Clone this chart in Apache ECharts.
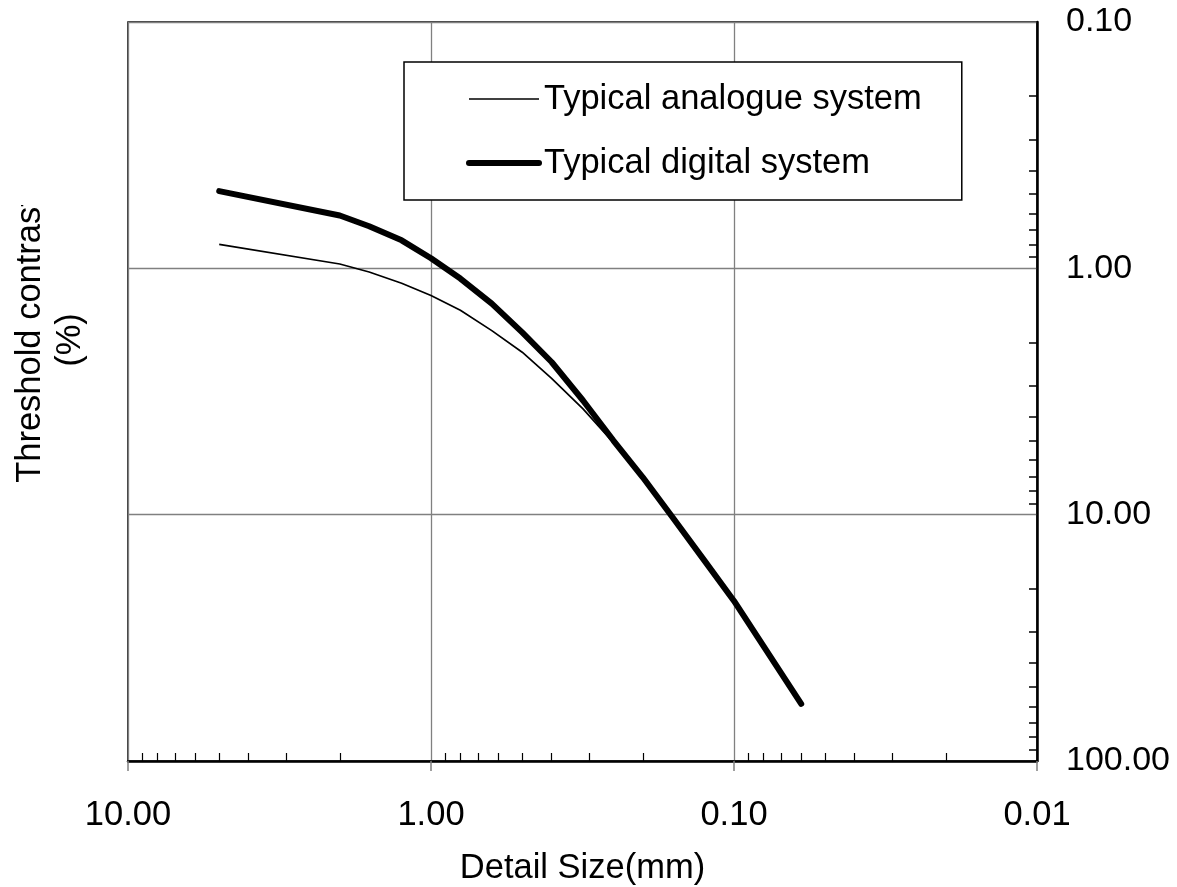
<!DOCTYPE html>
<html><head><meta charset="utf-8">
<script src="https://cdn.jsdelivr.net/npm/echarts@6/dist/echarts.min.js"></script>
<style>html,body{margin:0;padding:0;background:#fff}#c{width:1177px;height:887px}</style>
</head><body><div id="c"></div>
<script>
// Detail size (mm) and threshold contrast (%)
const detailSize = [5, 2, 1.6, 1.25, 1.0, 0.8, 0.63, 0.5, 0.4, 0.315, 0.25, 0.2, 0.16, 0.125, 0.1, 0.08, 0.06];
const analogue   = [0.80, 0.96, 1.035, 1.15, 1.29, 1.48, 1.79, 2.19, 2.8, 3.72, 5.1, 7.05, 10.2, 15.4, 22.4, 34.1, 58.6];
const digital    = [0.486, 0.61, 0.675, 0.77, 0.91, 1.1, 1.39, 1.82, 2.4, 3.44, 5.0, 7.05, 10.2, 15.4, 22.4, 34.1, 58.6];
const seriesNames = ['Typical analogue system', 'Typical digital system'];
const xName = 'Detail Size(mm)';
const yName = 'Threshold contrast\n(%)';
const xRange = [0.01, 10];
const yRange = [0.1, 100];

const FONT = '"Liberation Sans", Arial, Helvetica, sans-serif';
const fmt = v => Number(v).toFixed(2);

const chart = echarts.init(document.getElementById('c'), null, {renderer: 'canvas'});
chart.setOption({
  animation: false,
  backgroundColor: '#fff',
  textStyle: {fontFamily: FONT, color: '#000'},
  grid: {left: 128, right: 140, top: 22, bottom: 126, outerBoundsMode: 'none', containLabel: false,
         show: true, borderColor: '#000', borderWidth: 1.5, backgroundColor: 'transparent'},
  legend: {
    orient: 'vertical', left: 404, top: 62,
    padding: [17, 40, 17, 62], itemGap: 24, itemWidth: 70, itemHeight: 20,
    borderColor: '#000', borderWidth: 1.5, backgroundColor: '#fff',
    textStyle: {fontSize: 34.5, fontFamily: FONT, color: '#000', lineHeight: 40},
    data: [
      {name: seriesNames[0], itemStyle: {color: 'rgba(0,0,0,0)', opacity: 0, borderWidth: 0},
       lineStyle: {color: '#000', width: 1.7}},
      {name: seriesNames[1], itemStyle: {color: 'rgba(0,0,0,0)', opacity: 0, borderWidth: 0},
       lineStyle: {color: '#000', width: 6, cap: 'round'}}
    ]
  },
  xAxis: [{
    type: 'log', logBase: 10, min: xRange[0], max: xRange[1], inverse: true, position: 'bottom',
    name: xName, nameLocation: 'middle', nameGap: 90,
    nameTextStyle: {fontSize: 34.5, fontFamily: FONT, color: '#000'},
    axisLine: {lineStyle: {color: '#000', width: 2.5}},
    axisTick: {show: true, inside: false, length: 10, lineStyle: {color: '#808080', width: 1.5}},
    axisLabel: {fontSize: 34.5, fontFamily: FONT, color: '#000', margin: 37, formatter: fmt},
    splitLine: {show: true, lineStyle: {color: '#808080', width: 1.3}},
    minorTick: {show: false}
  }, {
    type: 'log', logBase: 10, min: xRange[0], max: xRange[1], inverse: true, position: 'bottom',
    axisLine: {show: false},
    axisTick: {show: false, inside: true},
    axisLabel: {show: false},
    splitLine: {show: false},
    minorTick: {show: true, splitNumber: 9, length: 8, lineStyle: {color: '#000', width: 1.2}}
  }],
  yAxis: {
    type: 'log', logBase: 10, min: yRange[0], max: yRange[1], inverse: true, position: 'right',
    axisLine: {show: true, lineStyle: {color: '#000', width: 2.5}},
    axisTick: {show: false, inside: true},
    minorTick: {show: true, splitNumber: 9, length: 8, lineStyle: {color: '#000', width: 1.5}},
    axisLabel: {fontSize: 34, fontFamily: FONT, color: '#000', margin: 29, formatter: fmt, padding: [5, 0, 0, 0]},
    splitLine: {show: true, lineStyle: {color: '#808080', width: 1.3}}
  },
  graphic: [
    {type: 'text', x: 50, y: 340, rotation: Math.PI / 2, z: 10,
     style: {text: yName, fontSize: 34.5, fontFamily: FONT, fill: '#000', align: 'center', verticalAlign: 'middle', lineHeight: 40}},
    {type: 'rect', shape: {x: 5, y: 150, width: 50, height: 55}, style: {fill: '#fff'}, z: 11}
  ],
  series: [{
    name: seriesNames[0], type: 'line', xAxisIndex: 0, symbol: 'none', showSymbol: false,
    data: detailSize.map((d, i) => [d, analogue[i]]),
    lineStyle: {color: '#000', width: 1.7}, itemStyle: {color: '#000'}, z: 3
  }, {
    name: seriesNames[1], type: 'line', xAxisIndex: 0, symbol: 'none', showSymbol: false,
    data: detailSize.map((d, i) => [d, digital[i]]),
    lineStyle: {color: '#000', width: 6, cap: 'round', join: 'round'}, itemStyle: {color: '#000'}, z: 4
  }]
});
</script></body></html>
